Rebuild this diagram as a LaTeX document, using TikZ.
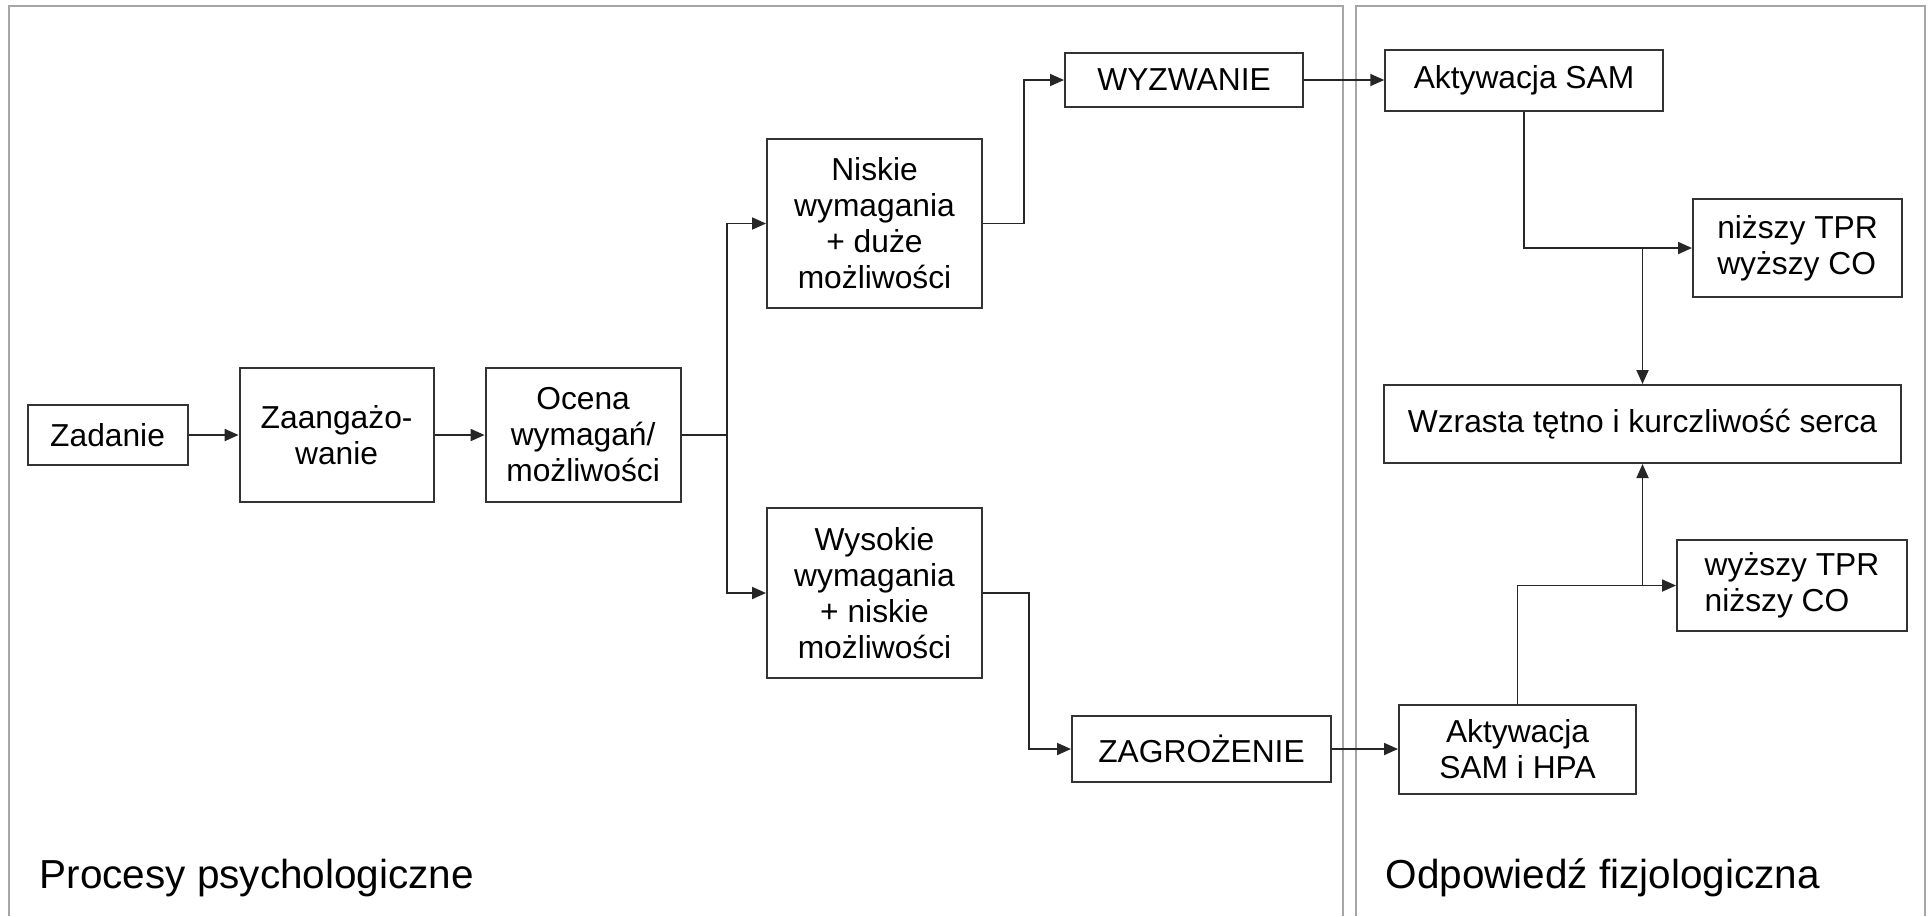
\documentclass[tikz,border=0pt]{standalone}
\usepackage{fontspec}
\setmainfont{Liberation Sans}
\usetikzlibrary{arrows.meta,positioning}

\begin{document}
\begin{tikzpicture}[
    x=0.4pt, y=-0.4pt,
    node distance=20pt,
    box/.style={rectangle, draw=black!80, line width=0.8pt, inner sep=2pt, align=center, font=\fontsize{12.7}{14.4}\selectfont},
    arrow/.style={-{Triangle[length=5.6pt,width=4.8pt]}, line width=0.75pt, draw=black!85},
    line/.style={line width=0.75pt, draw=black!85},
    panel/.style={draw=black!35, line width=0.7pt},
    title/.style={anchor=base west, inner sep=0pt, font=\fontsize{16.2}{19}\selectfont}
]
\useasboundingbox (0,0) rectangle (1930,916);
% two panels, open at the bottom
\draw[panel] (9,916) -- (9,6) -- (1343,6) -- (1343,916);
\draw[panel] (1356,916) -- (1356,6) -- (1925,6) -- (1925,916);

\node[box, minimum width=64pt, minimum height=24pt] (zad) at (107.6,435) {Zadanie};
\node[box, minimum width=77.6pt, minimum height=53.6pt, right=of zad] (zaang) {Zaangażo-\\wanie};
\node[box, minimum width=78pt, minimum height=53.6pt, right=of zaang] (ocena) {Ocena\\wymagań/\\możliwości};
\node[box, minimum width=86pt, minimum height=67.6pt] (niskie) at (874.5,223.5) {Niskie\\wymagania\\+ duże\\możliwości};
\node[box, minimum width=86pt, minimum height=68pt] (wysokie) at (874.5,593) {Wysokie\\wymagania\\+ niskie\\możliwości};
\node[box, minimum width=95.2pt, minimum height=21.6pt] (wyzw) at (1184,80) {WYZWANIE};
\node[box, minimum width=103.6pt, minimum height=26.4pt] (zagr) at (1201.5,749) {ZAGROŻENIE};
\node[box, minimum width=111pt, minimum height=24.4pt] (sam) at (1524,80) {Aktywacja SAM};
\node[box, align=left, minimum width=83.6pt, minimum height=39.2pt] (nizszy) at (1797.5,248) {niższy TPR\\wyższy CO};
\node[box, minimum width=206.8pt, minimum height=31.2pt] (serce) at (1642.5,424) {Wzrasta tętno i kurczliwość serca};
\node[box, align=left, minimum width=92pt, minimum height=36.4pt] (wyzszy) at (1792,585.5) {wyższy TPR\\niższy CO};
\node[box, minimum width=94.8pt, minimum height=35.6pt] (hpa) at (1517.5,749) {Aktywacja\\SAM i HPA};

\node[title] (psy) at (39,888) {Procesy psychologiczne};
\node[title] (fiz) at (1385,888) {Odpowiedź fizjologiczna};

\draw[arrow] (zad) -- (zaang);
\draw[arrow] (zaang) -- (ocena);
\draw[line] (ocena.east) -- ++(45,0) coordinate (split);
\draw[arrow] (split) |- (niskie);
\draw[arrow] (split) |- (wysokie);
\draw[arrow] (niskie.east) -- ++(41,0) |- (wyzw);
\draw[arrow] (wysokie.east) -- ++(46,0) |- (zagr);
\draw[arrow] (wyzw) -- (sam);
\draw[arrow] (zagr) -- (hpa);
\draw[arrow] (sam) |- (nizszy);
\draw[arrow] (serce.north |- nizszy.west) -- (serce.north);
\draw[arrow] (hpa) |- (wyzszy);
\draw[arrow] (serce.south |- wyzszy.west) -- (serce.south);
\end{tikzpicture}
\end{document}
